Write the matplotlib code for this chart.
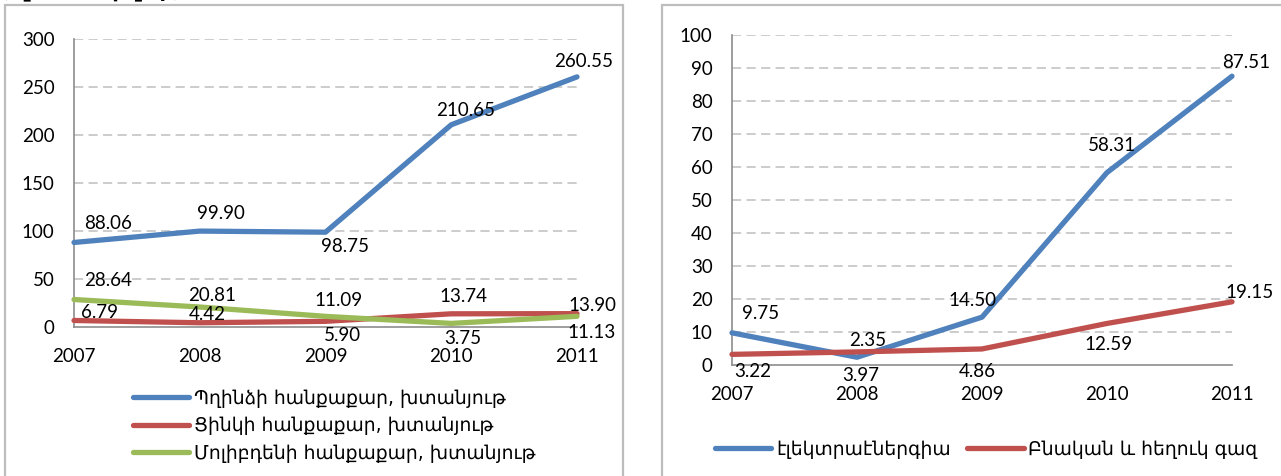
import matplotlib
matplotlib.use("Agg")
import matplotlib.pyplot as plt
from matplotlib.patches import Rectangle

plt.rcParams['font.family'] = ['Lato', 'DejaVu Sans']

years = ['2007', '2008', '2009', '2010', '2011']

# left chart: ore concentrates
copper = [88.06, 99.90, 98.75, 210.65, 260.55]
zinc = [6.79, 4.42, 5.90, 13.74, 13.90]
molybdenum = [28.64, 20.81, 11.09, 3.75, 11.13]
left_names = ['Պղինձի հանքաքար, խտանյութ',
              'Ցինկի հանքաքար, խտանյութ',
              'Մոլիբդենի հանքաքար, խտանյութ']

# right chart: energy
electricity = [9.75, 2.35, 14.50, 58.31, 87.51]
gas = [3.22, 3.97, 4.86, 12.59, 19.15]
right_names = ['էլեկտրաէներգիա', 'Բնական և հեղուկ գազ']

BLUE = '#4F81BD'
RED = '#C0504D'
GREEN = '#9BBB59'
GRID = '#BFBFBF'
SPINE = '#8C8C8C'
BORDER = '#BDBDBD'

# label offsets in pixels (dx, dy), dy up
copper_off = [(34, 19), (21, 18), (19, -14), (14, 14), (7, 15)]
zinc_off = [(26, 8), (8, 8), (17, -14), (12, 17), (15, 8)]
molyb_off = [(34, 19), (12, 12), (13, 16), (12, -15), (15, -16)]
elec_off = [(29, 19), (11, 17), (-9, 17), (5, 27), (14, 14)]
gas_off = [(21, -17), (4, -24), (-5, -23), (2, -21), (18, 9)]

W, H = 1281, 476
fig = plt.figure(figsize=(W / 100, H / 100), dpi=100)

# panel frames
fig.patches.append(Rectangle((5 / W, -0.1), 618 / W, 1.1 - 5 / H, transform=fig.transFigure,
                             fill=False, edgecolor=BORDER, lw=1.6))
fig.patches.append(Rectangle((662 / W, -0.1), 0.6, 1.1 - 5 / H, transform=fig.transFigure,
                             fill=False, edgecolor=BORDER, lw=1.6))

# heading above the left panel, cut by the top edge as in the source
fig.text(3 / W, 1 + 3 / H, '(մլն. ԱՄՆ դոլար)', fontsize=15, fontweight='bold',
         va='baseline', ha='left')


def style_axes(ax, ymax, step):
    x = range(len(years))
    ax.set_xlim(0, len(years) - 1)
    ax.set_ylim(0, ymax)
    ax.set_xticks(list(x))
    ax.set_xticklabels(years)
    ax.set_yticks(range(0, ymax + 1, step))
    for s in ['top', 'right']:
        ax.spines[s].set_visible(False)
    for s in ['left', 'bottom']:
        ax.spines[s].set_color(SPINE)
        ax.spines[s].set_linewidth(1.2)
    ax.tick_params(axis='both', length=0, labelsize=13.5)
    ax.tick_params(axis='y', pad=14)
    ax.tick_params(axis='x', pad=15)
    for v in range(step, ymax + 1, step):
        ax.axhline(v, color=GRID, lw=1.1, dashes=(6, 3.5), zorder=0)


def draw_series(ax, values, color, offsets, label):
    x = list(range(len(values)))
    ax.plot(x, values, color=color, lw=3.8, label=label, clip_on=False,
            solid_capstyle='round', solid_joinstyle='round', zorder=3)
    for xi, v, (dx, dy) in zip(x, values, offsets):
        ax.annotate(f'{v:.2f}', (xi, v), xytext=(dx, dy), textcoords='offset pixels',
                    ha='center', va='center', fontsize=13.5, zorder=4)


# left chart
ax1 = fig.add_axes([74 / W, 1 - 327 / H, 503 / W, 288 / H])
style_axes(ax1, 300, 50)
draw_series(ax1, copper, BLUE, copper_off, left_names[0])
draw_series(ax1, zinc, RED, zinc_off, left_names[1])
draw_series(ax1, molybdenum, GREEN, molyb_off, left_names[2])
ax1.legend(loc='upper left', bbox_to_anchor=(116 / W, 1 - 372 / H),
           bbox_transform=fig.transFigure, frameon=False,
           handlelength=3.0, handletextpad=0.25, labelspacing=0.45,
           prop={'family': ['DejaVu Sans'], 'size': 13.5})

# right chart
ax2 = fig.add_axes([732 / W, 1 - 365 / H, 500 / W, 330 / H])
style_axes(ax2, 100, 10)
draw_series(ax2, electricity, BLUE, elec_off, right_names[0])
draw_series(ax2, gas, RED, gas_off, right_names[1])
ax2.legend(loc='upper left', bbox_to_anchor=(698 / W, 1 - 423 / H),
           bbox_transform=fig.transFigure, frameon=False, ncol=2,
           handlelength=3.0, handletextpad=0.25, columnspacing=0.9,
           prop={'family': ['DejaVu Sans'], 'size': 13.5})

fig.savefig('out.png', dpi=100)
